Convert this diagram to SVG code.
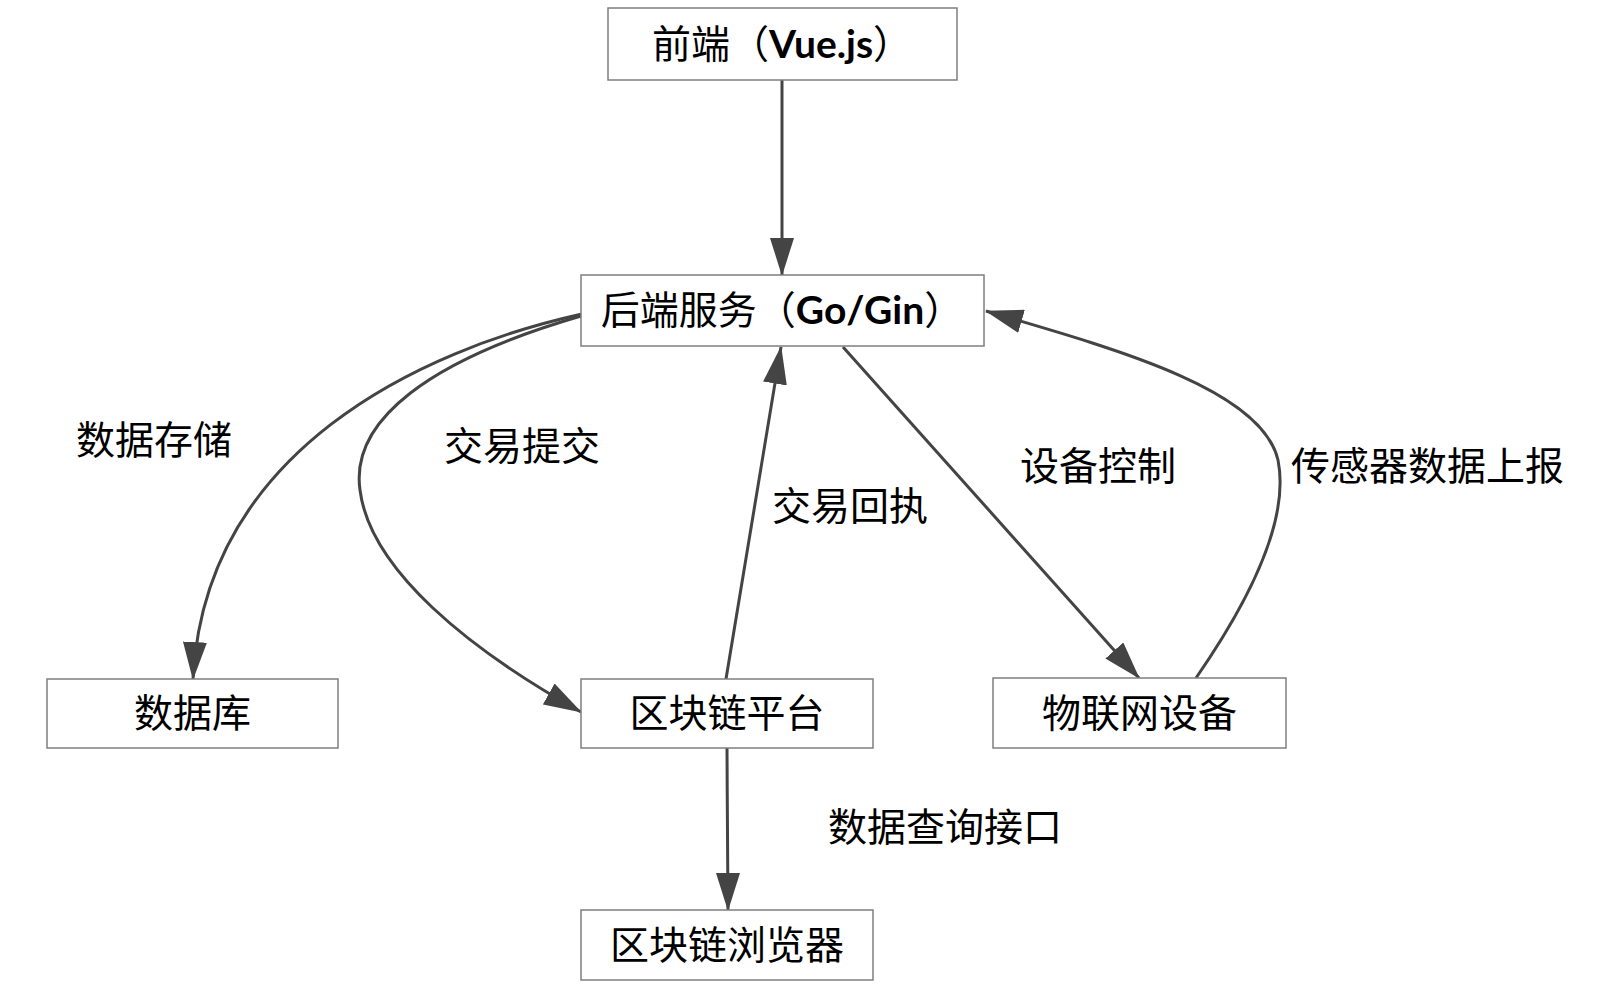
<svg xmlns="http://www.w3.org/2000/svg" width="1600" height="993" viewBox="0 0 1600 993">
<style>
.box{fill:#ffffff;stroke:#7f7f7f;stroke-width:1.5}
.t{font-family:"Noto Sans CJK SC","Noto Sans",sans-serif;font-size:39px;fill:#000}
.lat{font-family:Lato,"Open Sans",sans-serif;font-weight:bold;font-size:39px}
.e{fill:none;stroke:#444444;stroke-width:3;marker-end:url(#arr)}
</style>
<defs>
<marker id="arr" markerUnits="userSpaceOnUse" markerWidth="38" markerHeight="24" viewBox="0 0 38 24" refX="37" refY="12" orient="auto">
<path d="M0,0 L38,12 L0,24 z" fill="#444444"/>
</marker>
</defs>
<rect width="1600" height="993" fill="#ffffff"/>
<g id="connectors">
<path class="e" d="M782,80 L782,275"/>
<path class="e" d="M582,314 C420,350 205,450 193,679"/>
<path class="e" d="M581,316 C430,360 350,420 360,490 C370,570 470,650 581,712"/>
<path class="e" d="M726,679 L781,347"/>
<path class="e" d="M843,347 L1139,678"/>
<path class="e" d="M1196,678 C1250,600 1290,520 1278,460 C1262,390 1120,350 986,311"/>
<path class="e" d="M727,748 C727,800 728,830 728,910"/>
</g>
<g id="edge-labels">
<text class="t" x="76" y="454">数据存储</text>
<text class="t" x="444" y="460">交易提交</text>
<text class="t" x="772" y="520">交易回执</text>
<text class="t" x="1020" y="480">设备控制</text>
<text class="t" x="1291" y="480">传感器数据上报</text>
<text class="t" x="828" y="841">数据查询接口</text>
</g>
<g id="frontend">
<rect class="box" x="608" y="8" width="349" height="72"/>
<text class="t" x="782" y="58" text-anchor="middle">前端（<tspan class="lat">Vue.js</tspan>）</text>
</g>
<g id="backend">
<rect class="box" x="581" y="275" width="403" height="71"/>
<text class="t" x="782" y="324" text-anchor="middle">后端服务（<tspan class="lat">Go/Gin</tspan>）</text>
</g>
<g id="database">
<rect class="box" x="47" y="679" width="291" height="69"/>
<text class="t" x="192.5" y="727" text-anchor="middle">数据库</text>
</g>
<g id="blockchain">
<rect class="box" x="581" y="679" width="292" height="69"/>
<text class="t" x="727" y="727" text-anchor="middle">区块链平台</text>
</g>
<g id="iot">
<rect class="box" x="993" y="678" width="293" height="70"/>
<text class="t" x="1139.5" y="727" text-anchor="middle">物联网设备</text>
</g>
<g id="explorer">
<rect class="box" x="581" y="910" width="292" height="70"/>
<text class="t" x="727" y="959" text-anchor="middle">区块链浏览器</text>
</g>
</svg>
